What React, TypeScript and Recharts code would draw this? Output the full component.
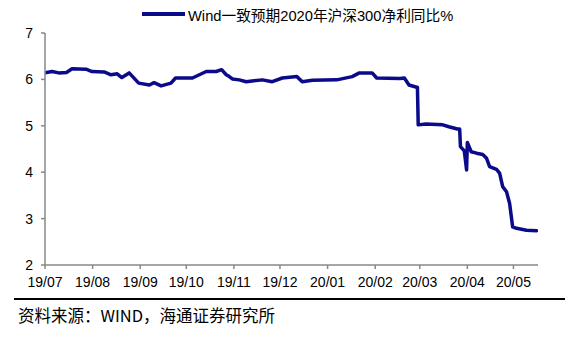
import React from 'react';
import { LineChart, Line, XAxis, YAxis } from 'recharts';

// Day offsets from 2019-07-01
const days = [0, 4.6, 9, 14, 17.6, 26.7, 30.6, 38.5, 43, 47, 50, 54.8, 61, 68, 71, 75.6, 82, 85, 96, 105, 111.5, 115, 118, 120, 122, 126.5, 131, 141.5, 148, 154.5, 164, 167.5, 174, 190, 200, 204.7, 213, 216, 231, 234, 237, 242, 242.5, 243, 248, 259, 263, 268.5, 270, 270.5, 273, 274.5, 275, 277.5, 281, 285, 287.5, 289.5, 294, 296, 298, 300.5, 302.5, 304.5, 307, 313.5, 320];
const values = [6.14, 6.17, 6.14, 6.15, 6.23, 6.22, 6.17, 6.16, 6.1, 6.12, 6.04, 6.14, 5.92, 5.88, 5.93, 5.86, 5.92, 6.03, 6.03, 6.17, 6.17, 6.21, 6.1, 6.06, 6.01, 5.99, 5.95, 5.99, 5.95, 6.03, 6.06, 5.95, 5.98, 5.99, 6.06, 6.14, 6.14, 6.03, 6.02, 6.03, 5.88, 5.83, 5.83, 5.02, 5.04, 5.02, 4.98, 4.93, 4.93, 4.55, 4.46, 4.05, 4.64, 4.44, 4.41, 4.38, 4.3, 4.12, 4.06, 3.98, 3.69, 3.58, 3.33, 2.82, 2.79, 2.75, 2.74];

const monthTicks = [0, 31, 62, 92, 123, 153, 184, 215, 244, 275, 305];
const monthLabels = ['19/07', '19/08', '19/09', '19/10', '19/11', '19/12', '20/01', '20/02', '20/03', '20/04', '20/05'];
const yTicks = [2, 3, 4, 5, 6, 7];

const seriesName = 'Wind一致预期2020年沪深300净利同比%';
const sourceText = '资料来源：WIND，海通证券研究所';

const data = days.map((d, i) => ({ day: d, v: values[i] }));

const LINE_COLOR = '#0a0a8a';
const AXIS_COLOR = '#888888';
const FONT = '"Liberation Sans", Arial, "Noto Sans CJK SC", sans-serif';

export default function App() {
  return (
    <div style={{ position: 'absolute', left: 0, top: 0, width: 577, height: 338, background: '#fff', fontFamily: FONT }}>
      <LineChart width={577} height={300} data={data} margin={{ top: 33, right: 39, bottom: 0, left: 0 }}>
        <XAxis
          dataKey="day"
          type="number"
          domain={[0, 321]}
          ticks={monthTicks}
          tickFormatter={(v: number) => monthLabels[monthTicks.indexOf(v)] ?? ''}
          height={35}
          axisLine={{ stroke: AXIS_COLOR, strokeWidth: 1.5 }}
          tickLine={{ stroke: AXIS_COLOR, strokeWidth: 1.5 }}
          tickSize={4}
          tickMargin={8}
          tick={{ fill: '#000', fontSize: 14, fontFamily: FONT }}
          interval={0}
          allowDataOverflow
        />
        <YAxis
          type="number"
          domain={[2, 7]}
          ticks={yTicks}
          width={45}
          axisLine={{ stroke: AXIS_COLOR, strokeWidth: 1.5 }}
          tickLine={{ stroke: AXIS_COLOR, strokeWidth: 1.5 }}
          tickSize={4}
          tickMargin={8}
          tick={{ fill: '#000', fontSize: 14, fontFamily: FONT }}
          interval={0}
        />
        <Line
          type="linear"
          dataKey="v"
          name={seriesName}
          stroke={LINE_COLOR}
          strokeWidth={3.5}
          strokeLinejoin="round"
          strokeLinecap="round"
          dot={false}
          activeDot={false}
          isAnimationActive={false}
        />
      </LineChart>
      <div style={{ position: 'absolute', left: 142, top: 4, height: 20, display: 'flex', alignItems: 'center' }}>
        <svg width={44} height={20}>
          <line x1={0} y1={10} x2={43} y2={10} stroke={LINE_COLOR} strokeWidth={4} />
        </svg>
        <span style={{ fontSize: 14.7, color: '#000', marginLeft: 2, whiteSpace: 'nowrap', fontFamily: FONT }}>{seriesName}</span>
      </div>
      <div style={{ position: 'absolute', left: 14, top: 298, width: 551, borderTop: '2px solid #000' }} />
      <div style={{ position: 'absolute', left: 18, top: 303, fontSize: 16.5, color: '#000', whiteSpace: 'nowrap', fontFamily: '"Noto Sans CJK SC", "Liberation Sans", sans-serif' }}>{sourceText}</div>
    </div>
  );
}
